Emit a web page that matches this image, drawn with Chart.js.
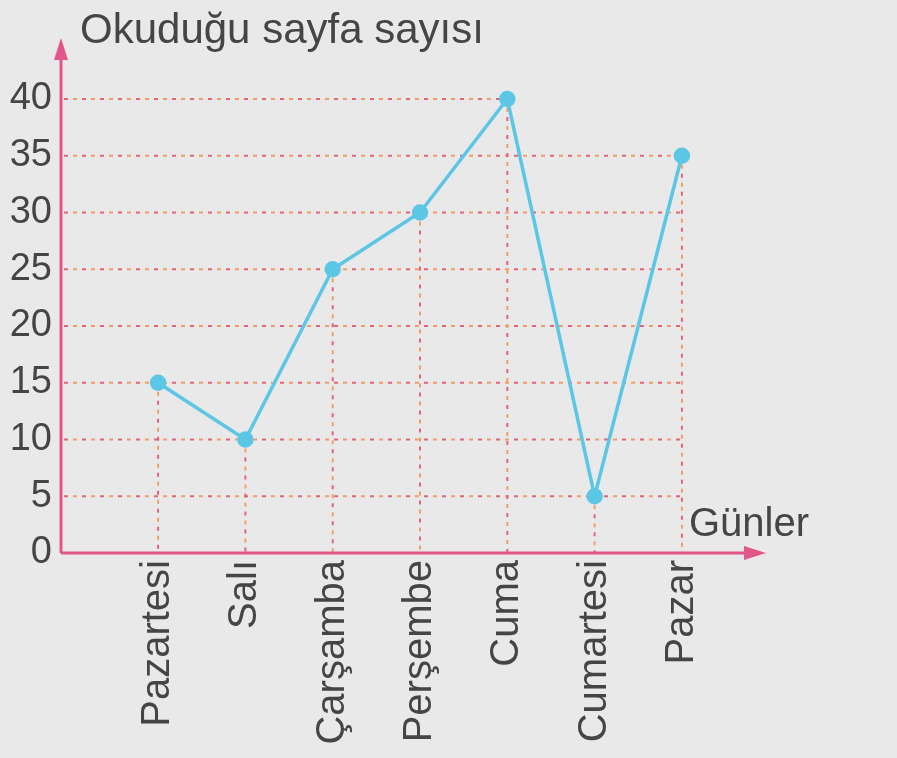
<!DOCTYPE html>
<html lang="tr">
<head>
<meta charset="utf-8">
<title>Okuduğu sayfa sayısı</title>
<script src="https://cdn.jsdelivr.net/npm/chart.js@4/dist/chart.umd.min.js"></script>
<style>
  html, body { margin: 0; padding: 0; background: #e9e9e9; }
  #wrap { width: 897px; height: 758px; position: relative; }
</style>
</head>
<body>
<div id="wrap"><canvas id="grafik"></canvas></div>
<script>
// veriler
const gunler = ['Pazartesi', 'Salı', 'Çarşamba', 'Perşembe', 'Cuma', 'Cumartesi', 'Pazar'];
const sayfalar = [15, 10, 25, 30, 40, 5, 35];
const yEtiketleri = [0, 5, 10, 15, 20, 25, 30, 35, 40];

const eksenRengi = '#e2578a';
const yaziRengi = '#474444';
const cizgiRengi = '#5cc6e6';
const font = '"Liberation Sans", Arial, sans-serif';

// kesik kılavuz çizgileri (kırmızı / turuncu sırayla)
function kesikCizgi(ctx, x1, y1, x2, y2) {
  ctx.lineWidth = 2;
  ctx.setLineDash([4, 14]);
  ctx.strokeStyle = '#e4637a';
  ctx.lineDashOffset = 0;
  ctx.beginPath(); ctx.moveTo(x1, y1); ctx.lineTo(x2, y2); ctx.stroke();
  ctx.strokeStyle = '#f0a066';
  ctx.lineDashOffset = -9;
  ctx.beginPath(); ctx.moveTo(x1, y1); ctx.lineTo(x2, y2); ctx.stroke();
}

const kilavuz = {
  id: 'kilavuz',
  beforeDatasetsDraw(chart) {
    const { ctx, scales: { x, y } } = chart;
    const y0 = y.getPixelForValue(0);
    ctx.save();
    // yatay çizgiler: değeri bu çizgiye ulaşan son noktaya kadar
    yEtiketleri.forEach((v) => {
      if (v === 0) return;
      let son = -1;
      sayfalar.forEach((s, i) => { if (s >= v) son = i; });
      if (son < 0) return;
      const py = y.getPixelForValue(v);
      kesikCizgi(ctx, x.left + 3, py, x.getPixelForValue(son + 1), py);
    });
    // dikey çizgiler: noktadan eksene
    sayfalar.forEach((s, i) => {
      const px = x.getPixelForValue(i + 1);
      kesikCizgi(ctx, px, y.getPixelForValue(s), px, y0);
    });
    ctx.restore();
  },
  afterDraw(chart) {
    const { ctx, scales: { x, y } } = chart;
    const ox = x.left;
    const oy = y.getPixelForValue(0);
    ctx.save();
    ctx.setLineDash([]);
    ctx.strokeStyle = eksenRengi;
    ctx.fillStyle = eksenRengi;
    ctx.lineWidth = 3;
    // y ekseni + ok
    ctx.beginPath(); ctx.moveTo(ox, oy); ctx.lineTo(ox, 56); ctx.stroke();
    ctx.beginPath(); ctx.moveTo(ox, 38); ctx.lineTo(ox - 7, 60); ctx.lineTo(ox + 7, 60); ctx.closePath(); ctx.fill();
    // x ekseni + ok
    ctx.beginPath(); ctx.moveTo(ox, oy); ctx.lineTo(748, oy); ctx.stroke();
    ctx.beginPath(); ctx.moveTo(766, oy); ctx.lineTo(744, oy - 7); ctx.lineTo(744, oy + 7); ctx.closePath(); ctx.fill();
    // eksen başlıkları
    ctx.fillStyle = yaziRengi;
    ctx.textBaseline = 'alphabetic';
    ctx.textAlign = 'left';
    ctx.font = '42px ' + font;
    ctx.fillText('Okuduğu sayfa sayısı', 80, 43);
    ctx.font = '40px ' + font;
    ctx.fillText('Günler', 689, 536);
    ctx.restore();
  }
};

const ctx = document.getElementById('grafik').getContext('2d');
new Chart(ctx, {
  type: 'line',
  data: {
    datasets: [{
      label: 'Okuduğu sayfa sayısı',
      data: sayfalar.map((s, i) => ({ x: i + 1, y: s })),
      borderColor: cizgiRengi,
      backgroundColor: cizgiRengi,
      borderWidth: 3.5,
      pointRadius: 6.5,
      pointHoverRadius: 6.5,
      tension: 0,
      clip: false,
    }],
  },
  options: {
    responsive: true,
    maintainAspectRatio: false,
    animation: false,
    layout: { padding: { top: 99, right: 131, left: 0, bottom: 0 } },
    plugins: {
      legend: { display: false },
      tooltip: { enabled: false },
    },
    scales: {
      x: {
        type: 'linear',
        min: -0.112,
        max: 7.963,
        grid: { display: false, drawTicks: false },
        border: { display: false },
        afterBuildTicks(scale) {
          scale.ticks = gunler.map((_, i) => ({ value: i + 1 }));
        },
        afterFit(scale) { scale.height = 205; },
        ticks: {
          autoSkip: false,
          minRotation: 90,
          maxRotation: 90,
          padding: 7,
          color: yaziRengi,
          font: { family: font, size: 40 },
          callback: (v) => gunler[v - 1],
        },
      },
      y: {
        type: 'linear',
        min: 0,
        max: 40,
        grid: { display: false, drawTicks: false },
        border: { display: false },
        afterFit(scale) { scale.width = 61; },
        afterBuildTicks(scale) {
          scale.ticks = yEtiketleri.map((v) => ({ value: v }));
        },
        ticks: {
          padding: 9,
          color: yaziRengi,
          font: { family: font, size: 38 },
        },
      },
    },
  },
  plugins: [kilavuz],
});
</script>
</body>
</html>
